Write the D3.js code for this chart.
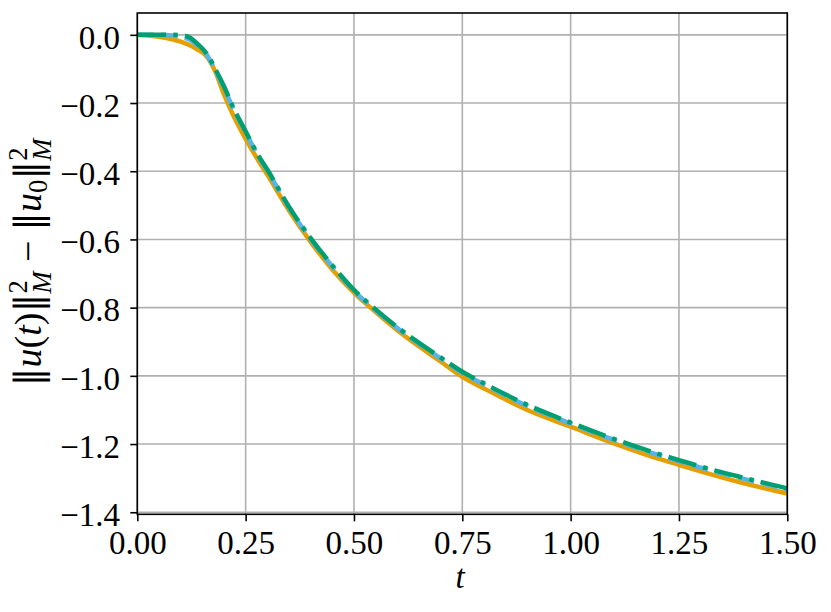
<!DOCTYPE html>
<html>
<head>
<meta charset="utf-8">
<script src="https://cdn.jsdelivr.net/npm/d3@7"></script>
<style>
  body { margin: 0; background: #fff; }
  svg { display: block; }
  text { fill: #000; }
</style>
</head>
<body>
<svg width="831" height="612"></svg>
<script>
// time samples shared by the three runs
var tVals = [0, 0.05, 0.08, 0.10, 0.12, 0.14, 0.16, 0.18, 0.20, 0.22, 0.25, 0.28, 0.30,
  0.35, 0.40, 0.45, 0.50, 0.55, 0.60, 0.70, 0.75, 0.80, 0.90, 1.00, 1.10, 1.20, 1.25,
  1.30, 1.40, 1.50];

var orangeVals = [0, -0.006, -0.013, -0.02, -0.03, -0.044, -0.063, -0.108, -0.175, -0.232,
  -0.305, -0.37, -0.41, -0.515, -0.607, -0.688, -0.756, -0.813, -0.866, -0.958, -1.003,
  -1.037, -1.1, -1.149, -1.198, -1.242, -1.261, -1.28, -1.315, -1.345];

var blueVals = [0, 0, -0.002, -0.006, -0.014, -0.032, -0.058, -0.104, -0.155, -0.213,
  -0.286, -0.358, -0.398, -0.507, -0.599, -0.679, -0.751, -0.808, -0.86, -0.949, -0.991,
  -1.025, -1.088, -1.14, -1.188, -1.231, -1.25, -1.269, -1.302, -1.333];

var greenVals = [0, 0, 0, -0.001, -0.007, -0.028, -0.055, -0.1, -0.151, -0.209,
  -0.283, -0.355, -0.395, -0.504, -0.596, -0.676, -0.748, -0.805, -0.857, -0.946, -0.988,
  -1.022, -1.085, -1.137, -1.185, -1.228, -1.247, -1.266, -1.299, -1.33];

var xTicks = [0, 0.25, 0.5, 0.75, 1.0, 1.25, 1.5];
var yTicks = [0, -0.2, -0.4, -0.6, -0.8, -1.0, -1.2, -1.4];

var svg = d3.select("svg"),
    pLeft = 137.3, pRight = 787.3, pTop = 13, pBottom = 514.3,
    fs = 33, lw = 4.5,
    font = "'Liberation Serif', serif";

var x = d3.scaleLinear().domain([0, 1.5]).range([pLeft, pRight]);
var y = d3.scaleLinear().domain([0.064, -1.406]).range([pTop, pBottom]);

// grid
var grid = svg.append("g").attr("stroke", "#b0b0b0").attr("stroke-width", 1.6);
grid.selectAll(".gx").data(xTicks).enter().append("line")
    .attr("x1", function(d) { return x(d); }).attr("x2", function(d) { return x(d); })
    .attr("y1", pTop).attr("y2", pBottom);
grid.selectAll(".gy").data(yTicks).enter().append("line")
    .attr("y1", function(d) { return y(d); }).attr("y2", function(d) { return y(d); })
    .attr("x1", pLeft).attr("x2", pRight);

var series = [
  {vals: orangeVals, color: "#E69F00", dash: null},
  {vals: blueVals, color: "#56B4E9", dash: [3.7 * lw, 1.6 * lw]},
  {vals: greenVals, color: "#009E73", dash: [6.4 * lw, 1.6 * lw, 1 * lw, 1.6 * lw]}
];

var line = d3.line()
    .curve(d3.curveMonotoneX)
    .x(function(d) { return x(d[0]); })
    .y(function(d) { return y(d[1]); });

svg.append("defs").append("clipPath").attr("id", "clip")
  .append("rect").attr("x", pLeft).attr("y", pTop)
    .attr("width", pRight - pLeft).attr("height", pBottom - pTop);

series.forEach(function(s) {
  svg.append("path")
      .datum(tVals.map(function(t, i) { return [t, s.vals[i]]; }))
      .attr("clip-path", "url(#clip)")
      .attr("fill", "none")
      .attr("stroke", s.color)
      .attr("stroke-width", lw)
      .attr("stroke-dasharray", s.dash ? s.dash.join(",") : null)
      .attr("d", line);
});

// axes
var xAxis = d3.axisBottom(x).tickValues(xTicks).tickFormat(d3.format(".2f"))
    .tickSizeInner(7).tickSizeOuter(0).tickPadding(10);
var yAxis = d3.axisLeft(y).tickValues(yTicks).tickFormat(d3.format(".1f"))
    .tickSizeInner(7).tickSizeOuter(0).tickPadding(10.3);

var gx = svg.append("g").attr("transform", "translate(0," + pBottom + ")").call(xAxis);
var gy = svg.append("g").attr("transform", "translate(" + pLeft + ",0)").call(yAxis);

[gx, gy].forEach(function(g) {
  g.attr("font-family", font);
  g.select(".domain").remove();
  g.selectAll(".tick line").attr("stroke", "#000").attr("stroke-width", 1.6);
  g.selectAll(".tick text").attr("font-size", fs).attr("fill", "#000");
});
gx.selectAll(".tick text").attr("dy", "0.68em");
gy.selectAll(".tick text").attr("dy", "0.4em");

// frame
svg.append("rect")
    .attr("x", pLeft).attr("y", pTop)
    .attr("width", pRight - pLeft).attr("height", pBottom - pTop)
    .attr("fill", "none").attr("stroke", "#000").attr("stroke-width", 1.6);

// labels
svg.append("text")
    .attr("x", 460).attr("y", 588)
    .attr("text-anchor", "middle")
    .attr("font-family", font)
    .attr("font-size", fs)
    .attr("font-style", "italic")
    .text("t");

var lfs = 38;
var yl = svg.append("text")
    .attr("transform", "translate(41,262.5) rotate(-90)")
    .attr("text-anchor", "middle")
    .attr("font-family", font)
    .attr("font-size", lfs);

function norm(parts) {
  parts.forEach(function(p) {
    var ts = yl.append("tspan").text(p[0]);
    if (p[1]) ts.attr("font-style", "italic");
    if (p[2]) ts.attr("font-size", p[2]);
    if (p[3] != null) ts.attr("dy", p[3]);
    if (p[4] != null) ts.attr("dx", p[4]);
    if (p[0].indexOf("\u2016") >= 0) ts.style("font-family", "'DejaVu Serif', serif");
  });
}
norm([
  ["\u2016"], ["u", true], ["("], ["t", true], [")"], ["\u2016"],
  ["2", false, lfs * 0.7, -14], ["M", true, lfs * 0.7, 24, -lfs * 0.35], [" \u2212 ", false, lfs, -10],
  ["\u2016"], ["u", true], ["0", false, lfs * 0.7, 6], ["\u2016", false, lfs, -6],
  ["2", false, lfs * 0.7, -14], ["M", true, lfs * 0.7, 24, -lfs * 0.35]
]);
</script>
</body>
</html>
